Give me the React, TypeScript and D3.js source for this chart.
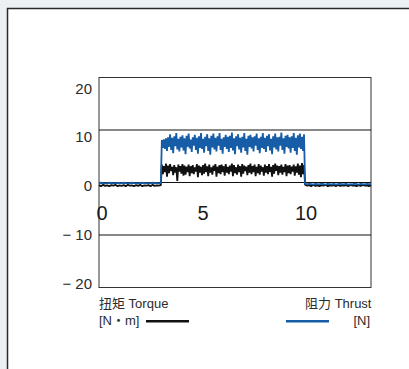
import React from 'react';
import * as d3 from 'd3';

const WIDTH = 409;
const HEIGHT = 369;
const PLOT = { left: 99, right: 371, top: 77.5, bottom: 287.5 };

const xTicks = [0, 5, 10];
const yTicks = [20, 10, 0, -10, -20];
const yGrid = [10, 0, -10];

// sampling of the recorded signals (seconds)
const IDLE_DT = 0.1;
const RUN_DT = 0.05;
const RUN_START = 3.05;
const IDLE_AFTER_START = 10.0;

// Thrust [N]
const thrustIdleBefore = [
  -0.1, -0.05, -0.1, -0.15, -0.1, -0.05, -0.1, -0.1, -0.15, -0.05,
  -0.1, -0.1, -0.05, -0.1, -0.15, -0.1, -0.05, -0.1, -0.1, -0.15,
  -0.1, -0.05, -0.1, -0.1, -0.15, -0.1, -0.05, -0.1, -0.1, -0.15, -0.1,
];
const thrustRun = [
  8.1, 6.6, 8.2, 6.4, 8.4, 6.0, 8.6, 6.8, 9.2, 6.2, 8.5, 5.6, 8.8, 6.9, 9.4, 6.3, 8.3, 5.9, 8.7, 6.7,
  9.0, 6.1, 8.4, 5.4, 8.9, 6.8, 9.3, 6.5, 8.2, 5.8, 8.6, 7.0, 9.1, 6.2, 8.5, 5.5, 8.8, 6.6, 9.4, 6.4,
  8.3, 5.7, 8.7, 6.9, 9.2, 6.0, 8.4, 5.3, 8.9, 6.7, 9.3, 6.3, 8.5, 5.9, 8.8, 7.0, 9.4, 6.2, 8.3, 5.5,
  8.6, 6.8, 9.1, 6.4, 8.7, 5.8, 8.9, 6.6, 9.5, 6.1, 8.4, 5.4, 8.8, 6.9, 9.2, 6.3, 8.5, 5.7, 8.7, 6.7,
  9.4, 6.0, 8.3, 5.3, 8.9, 6.8, 9.1, 6.5, 8.6, 5.9, 8.8, 7.0, 9.3, 6.2, 8.4, 5.6, 8.7, 6.6, 9.4, 6.4,
  8.5, 5.8, 8.9, 6.9, 9.2, 6.1, 8.3, 5.4, 8.8, 6.7, 9.3, 6.3, 8.6, 5.9, 8.7, 7.0, 9.5, 6.2, 8.4, 5.5,
  8.9, 6.8, 9.1, 6.5, 8.6, 5.7, 8.8, 6.6, 9.4, 6.0, 8.5, 5.3, 9.0, 6.7, 9.3, 6.4, 8.7, 6.0, 9.2,
];
const thrustIdleAfter = [
  -0.2, -0.35, -0.25, -0.3, -0.4, -0.25, -0.3, -0.35, -0.2, -0.3, -0.4,
  -0.25, -0.3, -0.35, -0.25, -0.4, -0.3, -0.2, -0.35, -0.3, -0.25, -0.4,
  -0.3, -0.35, -0.2, -0.3, -0.4, -0.25, -0.3, -0.35, -0.25, -0.3, -0.3,
];

// Torque [N·m]
const torqueIdleBefore = [
  -0.5, -0.7, -0.45, -0.65, -0.55, -0.7, -0.5, -0.6, -0.45, -0.7,
  -0.55, -0.65, -0.5, -0.7, -0.45, -0.6, -0.55, -0.7, -0.5, -0.65,
  -0.45, -0.7, -0.55, -0.6, -0.5, -0.7, -0.45, -0.65, -0.55, -0.6, -0.5,
];
const torqueRun = [
  3.4, 1.6, 3.1, 2.0, 3.6, 1.1, 3.2, 1.8, 3.5, 2.2, 3.0, 1.4, 3.3, 1.9, 2.9, 0.3, 3.4, 2.1, 3.1, 1.7,
  3.5, 1.3, 3.2, 1.5, 3.0, 2.0, 3.4, 1.2, 3.1, 1.8, 3.3, 1.6, 2.9, 2.1, 3.5, 1.0, 3.2, 1.9, 3.0, 1.4,
  3.3, 1.7, 3.6, 2.0, 3.1, 1.2, 3.4, 1.9, 2.9, 1.5, 3.2, 2.2, 3.5, 1.1, 3.0, 1.8, 3.3, 1.6, 3.4, 2.0,
  3.1, 1.3, 3.5, 1.9, 3.0, 1.6, 3.2, 2.1, 3.6, 1.2, 3.3, 1.8, 2.9, 1.5, 3.4, 2.0, 3.1, 1.1, 3.5, 1.7,
  3.2, 2.2, 3.0, 1.4, 3.3, 1.9, 3.6, 1.6, 3.1, 2.0, 3.4, 1.2, 3.0, 1.8, 3.5, 1.5, 3.2, 2.1, 2.9, 1.3,
  3.4, 1.9, 3.1, 1.6, 3.5, 2.0, 3.0, 1.1, 3.3, 1.7, 3.6, 2.2, 3.2, 1.4, 3.1, 1.9, 3.4, 1.5, 3.0, 2.0,
  3.5, 1.2, 3.2, 1.8, 3.3, 1.6, 3.0, 2.1, 3.4, 1.3, 3.1, 1.9, 3.6, 1.5, 3.2, 1.0, 3.7, 1.6, 3.3,
];
const torqueIdleAfter = [
  -0.4, -0.6, -0.5, -0.7, -0.45, -0.65, -0.55, -0.7, -0.5, -0.6, -0.45,
  -0.7, -0.55, -0.6, -0.5, -0.7, -0.45, -0.65, -0.55, -0.6, -0.5, -0.7,
  -0.45, -0.6, -0.55, -0.7, -0.5, -0.65, -0.45, -0.6, -0.55, -0.7, -0.5,
];

const BLUE = '#175ca6';
const BLACK = '#111';
const TEXT = '#2b2b2b';
const LATIN = '"Liberation Sans", Arial, Helvetica, sans-serif';
const CJK = '"Liberation Sans", "Noto Sans CJK SC", sans-serif';

type Pt = [number, number];

const toPoints = (before: number[], run: number[], after: number[]): Pt[] => [
  ...before.map((v, i) => [i * IDLE_DT, v] as Pt),
  ...run.map((v, i) => [RUN_START + i * RUN_DT, v] as Pt),
  ...after.map((v, i) => [IDLE_AFTER_START + i * IDLE_DT, v] as Pt),
];

const thrust = toPoints(thrustIdleBefore, thrustRun, thrustIdleAfter);
const torque = toPoints(torqueIdleBefore, torqueRun, torqueIdleAfter);

export default function App() {
  const x = d3.scaleLinear().domain([0, 13.2]).range([PLOT.left, PLOT.right]);
  const y = d3.scaleLinear().domain([-20, 20]).range([PLOT.bottom, PLOT.top]);
  // tick labels in the original sit on a slightly tighter scale than the grid
  const yLabel = d3.scaleLinear().domain([-20, 20]).range([283, 88]);

  const line = d3
    .line<Pt>()
    .x((d) => x(d[0]))
    .y((d) => y(d[1]));

  return (
    <svg
      width={WIDTH}
      height={HEIGHT}
      style={{ position: 'absolute', left: 0, top: 0, display: 'block' }}
    >
      <rect x={0} y={0} width={WIDTH} height={HEIGHT} fill="#edf0f3" />
      <rect x={7.5} y={8.5} width={WIDTH + 10} height={HEIGHT + 10} fill="#fff" stroke="#2a2a2a" strokeWidth={1.5} />

      {/* plot frame and grid */}
      <rect
        x={PLOT.left}
        y={PLOT.top}
        width={PLOT.right - PLOT.left}
        height={PLOT.bottom - PLOT.top}
        fill="#fff"
        stroke="#333"
        strokeWidth={1}
      />
      {yGrid.map((v) => (
        <line key={v} x1={PLOT.left} x2={PLOT.right} y1={y(v)} y2={y(v)} stroke="#111" strokeWidth={1} />
      ))}

      {/* signals */}
      <path d={line(torque) ?? ''} fill="none" stroke={BLACK} strokeWidth={1.8} strokeLinejoin="bevel" />
      <path d={line(thrust) ?? ''} fill="none" stroke={BLUE} strokeWidth={1.8} strokeLinejoin="bevel" />

      {/* y tick labels */}
      {yTicks.map((v) => (
        <text
          key={v}
          x={92}
          y={yLabel(v)}
          dominantBaseline="central"
          textAnchor="end"
          fontFamily={LATIN}
          fontSize={15}
          fill={TEXT}
        >
          {v < 0 ? `− ${Math.abs(v)}` : v}
        </text>
      ))}

      {/* x tick labels */}
      {xTicks.map((v) => (
        <text
          key={v}
          x={x(v) + (v === 0 ? 3 : 1)}
          y={219.5}
          textAnchor="middle"
          fontFamily={LATIN}
          fontSize={20}
          fill="#1a1a1a"
        >
          {v}
        </text>
      ))}

      {/* legend */}
      <text x={99} y={308} fontFamily={CJK} fontSize={13} fill={TEXT}>
        扭矩 Torque
      </text>
      <text x={99} y={325} fontFamily={CJK} fontSize={13} fill={TEXT}>
        [N・m]
      </text>
      <line x1={146} x2={189} y1={321.3} y2={321.3} stroke={BLACK} strokeWidth={2.6} />

      <text x={371.5} y={308} textAnchor="end" fontFamily={CJK} fontSize={13} fill={TEXT}>
        阻力 Thrust
      </text>
      <text x={370} y={325} textAnchor="end" fontFamily={CJK} fontSize={13} fill={TEXT}>
        [N]
      </text>
      <line x1={286} x2={329} y1={321.3} y2={321.3} stroke={BLUE} strokeWidth={2.6} />
    </svg>
  );
}
